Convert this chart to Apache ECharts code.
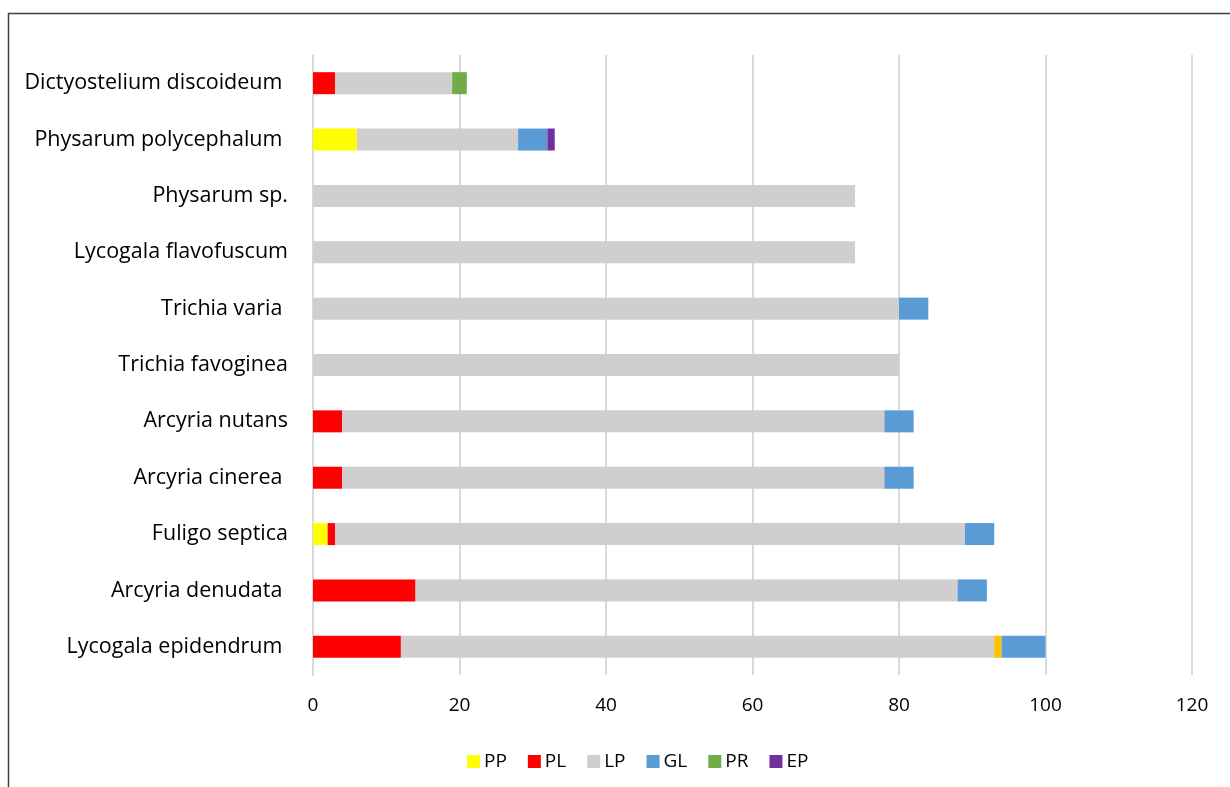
<!DOCTYPE html>
<html>
    <head>
        <meta charset="utf-8">
        <title>Myxomycetes stacked bars</title>
        <script src="https://cdn.jsdelivr.net/npm/echarts@6/dist/echarts.min.js"></script>
        <style>
            body { margin: 0; background: #fff; }
        </style>
    </head>
    <body>
        <div id="main" style="width:1230px;height:787px;"></div>
        <script type="text/javascript">
            // categories, bottom to top
            var species = ['Lycogala epidendrum ', 'Arcyria denudata ', 'Fuligo septica', 'Arcyria cinerea ',
                'Arcyria nutans', 'Trichia favoginea', 'Trichia varia ', 'Lycogala flavofuscum',
                'Physarum sp.', 'Physarum polycephalum ', 'Dictyostelium discoideum '];
            var PP = [0, 0, 2, 0, 0, 0, 0, 0, 0, 6, 0];
            var PL = [12, 14, 1, 4, 4, 0, 0, 0, 0, 0, 3];
            var LP = [81, 74, 86, 74, 74, 80, 80, 74, 74, 22, 16];
            var other = [1, 0, 0, 0, 0, 0, 0, 0, 0, 0, 0]; // orange bit, not in legend
            var GL = [6, 4, 4, 4, 4, 0, 4, 0, 0, 4, 0];
            var PR = [0, 0, 0, 0, 0, 0, 0, 0, 0, 0, 2];
            var EP = [0, 0, 0, 0, 0, 0, 0, 0, 0, 1, 0];
            var xTicks = [0, 20, 40, 60, 80, 100, 120];

            var font = 'Open Sans';
            var mychart = echarts.init(document.getElementById('main'));

            function bar(name, data, color) {
                return {
                    name: name,
                    type: 'bar',
                    stack: 'all',
                    barWidth: 22,
                    data: data,
                    itemStyle: { color: color }
                };
            }

            var option = {
                animation: false,
                graphic: [{
                    type: 'rect',
                    shape: { x: 8.5, y: 13.5, width: 1300, height: 900 },
                    style: { fill: null, stroke: '#404040', lineWidth: 1.5 },
                    silent: true
                }],
                legend: {
                    data: ['PP', 'PL', 'LP', 'GL', 'PR', 'EP'],
                    left: 462,
                    top: 747,
                    itemWidth: 13,
                    itemHeight: 13,
                    itemGap: 21,
                    icon: 'rect',
                    textStyle: { fontFamily: font, fontSize: 19, color: '#000', padding: [0, 0, 0, -1] }
                },
                grid: {
                    left: 313,
                    right: 38,
                    top: 55,
                    bottom: 112
                },
                xAxis: {
                    type: 'value',
                    min: 0,
                    max: 120,
                    interval: 20,
                    axisLine: { show: false },
                    axisTick: { show: false },
                    splitLine: { lineStyle: { color: '#d9d9d9', width: 2 } },
                    axisLabel: {
                        fontFamily: font, fontSize: 19, color: '#000', margin: 21,
                        formatter: function (v) { return xTicks.indexOf(v) >= 0 ? String(v) : ''; }
                    }
                },
                yAxis: {
                    type: 'category',
                    data: species,
                    axisLine: { show: true, lineStyle: { color: '#d9d9d9', width: 2 } },
                    axisTick: { show: false },
                    axisLabel: { fontFamily: font, fontSize: 21.5, color: '#000', margin: 25 }
                },
                series: [
                    bar('PP', PP, '#ffff00'),
                    bar('PL', PL, '#ff0000'),
                    bar('LP', LP, '#d0cece'),
                    bar('Other', other, '#ffc000'),
                    bar('GL', GL, '#5b9bd5'),
                    bar('PR', PR, '#70ad47'),
                    bar('EP', EP, '#7030a0')
                ]
            };
            mychart.setOption(option);
        </script>
    </body>
</html>
